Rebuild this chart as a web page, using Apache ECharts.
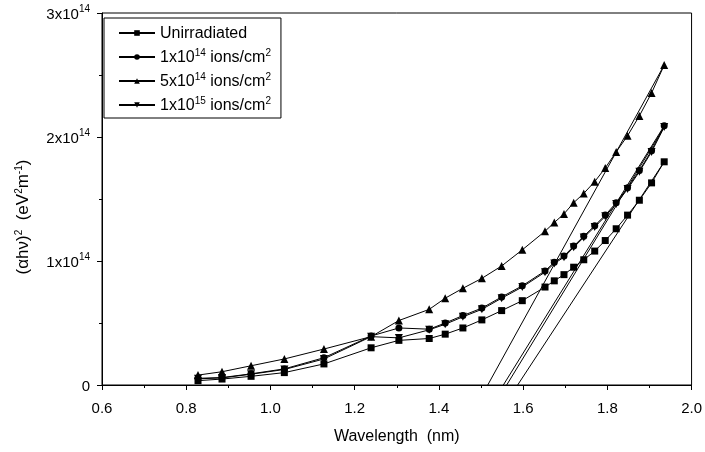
<!DOCTYPE html>
<html>
<head>
<meta charset="utf-8">
<script src="https://cdn.jsdelivr.net/npm/echarts@6/dist/echarts.min.js"></script>
<style>
  html, body { margin: 0; padding: 0; background: #fff; }
  #chart { width: 705px; height: 452px; }
</style>
</head>
<body>
<div id="chart"></div>
<script>
// x values shared by every curve (nm)
const wavelength = [0.828, 0.885, 0.954, 1.033, 1.127, 1.239, 1.305, 1.377, 1.415, 1.457, 1.502, 1.549, 1.598,
  1.652, 1.674, 1.697, 1.720, 1.744, 1.770, 1.795, 1.821, 1.848, 1.876, 1.905, 1.935];

// (alpha h nu)^2 in units of 1x10^14
const unirradiated = [0.035, 0.048, 0.07, 0.10, 0.17, 0.30, 0.36, 0.375, 0.41, 0.46, 0.525, 0.60, 0.68,
  0.79, 0.84, 0.89, 0.95, 1.01, 1.08, 1.165, 1.26, 1.37, 1.49, 1.63, 1.80];
const ions1e14 = [0.054, 0.06, 0.09, 0.13, 0.22, 0.395, 0.46, 0.45, 0.50, 0.56, 0.62, 0.71, 0.80,
  0.92, 0.99, 1.04, 1.12, 1.20, 1.285, 1.37, 1.47, 1.59, 1.73, 1.89, 2.09];
const ions5e14 = [0.08, 0.107, 0.155, 0.21, 0.29, 0.39, 0.52, 0.61, 0.70, 0.78, 0.86, 0.96, 1.09,
  1.24, 1.31, 1.38, 1.47, 1.545, 1.64, 1.75, 1.88, 2.01, 2.17, 2.355, 2.58];
const ions1e15 = [0.05, 0.057, 0.087, 0.125, 0.21, 0.39, 0.38, 0.445, 0.49, 0.55, 0.61, 0.70, 0.79,
  0.91, 0.98, 1.03, 1.11, 1.19, 1.275, 1.36, 1.46, 1.58, 1.72, 1.88, 2.08];

// linear fits: [x at zero, x at end, y at end]
const fitUnirradiated = [1.587, 1.935, 1.80];
const fit1e14 = [1.553, 1.935, 2.09];
const fit5e14 = [1.516, 1.935, 2.58];
const fit1e15 = [1.561, 1.935, 2.08];

const seriesNames = ['Unirradiated', '1x10^14 ions/cm^2', '5x10^14 ions/cm^2', '1x10^15 ions/cm^2'];
const legendLabels = [
  '{t|Unirradiated}',
  '{t|1x10}{s|14}{t| ions/cm}{s|2}',
  '{t|5x10}{s|14}{t| ions/cm}{s|2}',
  '{t|1x10}{s|15}{t| ions/cm}{s|2}'
];
const xTicks = { min: 0.6, max: 2.0, step: 0.2 };
const yTicks = { min: 0, max: 3, step: 1 };

const font = '"Liberation Sans", Arial, sans-serif';
const sup = { fontSize: 10, fontFamily: font, color: '#000', verticalAlign: 'bottom', padding: [0, 0, 8, 0] };
const txt = size => ({ fontSize: size, fontFamily: font, color: '#000', verticalAlign: 'bottom', lineHeight: 18 });

const pts = ys => wavelength.map((x, i) => [x, ys[i]]);
const fitLine = f => [[f[0], 0], [f[1], f[2]]];

function curve(name, ys, symbol, size, rotate) {
  return {
    name: name, type: 'line', data: pts(ys),
    symbol: symbol, symbolSize: size, symbolRotate: rotate || 0,
    showSymbol: true,
    lineStyle: { color: '#000', width: 1 },
    itemStyle: { color: '#000' },
    animation: false
  };
}
function fit(f) {
  return {
    type: 'line', data: fitLine(f), symbol: 'none',
    lineStyle: { color: '#000', width: 1 }, animation: false, silent: true
  };
}

const chart = echarts.init(document.getElementById('chart'));
chart.setOption({
  backgroundColor: '#fff',
  textStyle: { fontFamily: font },
  grid: { left: 102, right: 12, top: 13, bottom: 67, show: true, borderColor: '#000', borderWidth: 1 },
  legend: {
    data: seriesNames,
    orient: 'vertical',
    left: 104, top: 18,
    padding: [8, 10, 4, 14],
    itemGap: 6,
    itemWidth: 36,
    itemHeight: 7,
    borderColor: '#000', borderWidth: 1,
    formatter: name => legendLabels[seriesNames.indexOf(name)],
    textStyle: { rich: { t: txt(16), s: sup } }
  },
  xAxis: {
    type: 'value', min: xTicks.min, max: xTicks.max, interval: xTicks.step,
    name: 'Wavelength  (nm)', nameLocation: 'middle', nameGap: 44,
    nameTextStyle: { fontSize: 16, color: '#000', fontFamily: font },
    axisLine: { show: true, lineStyle: { color: '#000', width: 1 } },
    axisTick: { show: true, inside: false, length: 5, lineStyle: { color: '#000' } },
    minorTick: { show: true, splitNumber: 2, length: 3, lineStyle: { color: '#000' } },
    splitLine: { show: false },
    axisLabel: { color: '#000', fontSize: 15, fontFamily: font, margin: 16, formatter: v => v.toFixed(1) }
  },
  yAxis: {
    type: 'value', min: yTicks.min, max: yTicks.max, interval: yTicks.step,
    name: '{t|(\u03b1h\u03bd)}{s|2}{t|  (eV}{s|2}{t|m}{s|-1}{t|)}',
    nameLocation: 'middle', nameRotate: 90, nameGap: 70,
    nameTextStyle: { rich: { t: txt(17), s: sup }, padding: [0, 36, 0, 0] },
    axisLine: { show: true, lineStyle: { color: '#000', width: 1 } },
    axisTick: { show: true, inside: false, length: 5, lineStyle: { color: '#000' } },
    minorTick: { show: true, splitNumber: 2, length: 3, lineStyle: { color: '#000' } },
    splitLine: { show: false },
    axisLabel: {
      margin: 12,
      formatter: v => v === 0 ? '{t|0}' : '{t|' + v + 'x10}{s|14}',
      rich: { t: txt(15), s: sup }
    }
  },
  series: [
    curve(seriesNames[0], unirradiated, 'rect', 7),
    curve(seriesNames[1], ions1e14, 'circle', 7),
    curve(seriesNames[2], ions5e14, 'triangle', 8),
    curve(seriesNames[3], ions1e15, 'triangle', 8, 180),
    fit(fitUnirradiated), fit(fit1e14), fit(fit5e14), fit(fit1e15)
  ]
});
</script>
</body>
</html>
